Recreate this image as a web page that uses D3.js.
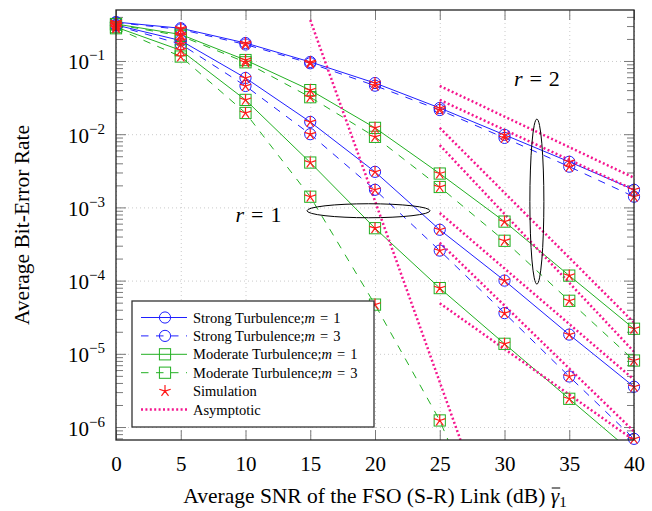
<!DOCTYPE html>
<html>
<head>
<meta charset="utf-8">
<script src="https://cdnjs.cloudflare.com/ajax/libs/d3/7.8.5/d3.min.js"></script>
<style>
body { margin: 0; background: #fff; }
svg text, svg tspan { font-family: "Liberation Serif", "Times New Roman", serif; fill: #000; }
</style>
</head>
<body>
<svg id="chart" width="652" height="511"></svg>
<script>
'use strict';

// average SNR of the FSO link (dB)
var snr = [0, 5, 10, 15, 20, 25, 30, 35, 40];

// r = 2
var strongR2M1 = [0.34, 0.28, 0.176, 0.097, 0.050, 0.0228, 0.0098, 0.0042, 0.00174];
var strongR2M3 = [0.335, 0.27, 0.168, 0.093, 0.046, 0.0214, 0.0089, 0.0036, 0.0014];
var moderateR2M1 = [0.32, 0.23, 0.103, 0.040, 0.0122, 0.0029, 0.00064, 0.000117, 0.000022];
var moderateR2M3 = [0.315, 0.22, 0.096, 0.032, 0.0092, 0.0019, 0.00035, 0.000053, 0.0000081];

// r = 1
var strongR1M1 = [0.31, 0.19, 0.0586, 0.0147, 0.00306, 0.000495, 0.0001, 0.0000183, 0.00000355];
var strongR1M3 = [0.305, 0.17, 0.0456, 0.010, 0.00174, 0.000257, 0.000036, 0.0000049, 0.00000069];
var moderateR1M1 = [0.29, 0.14, 0.0294, 0.0041, 0.00052, 0.000079, 0.0000137, 0.00000243, 0.00000043];
var moderateR1M3 = [0.28, 0.115, 0.0195, 0.0014, 0.000047, 0.00000123, 0.00000001];

// asymptotic lines, [snr, ber] end points
var asymStrongR2M1 = [[25, 0.0456], [40, 0.00254]];
var asymStrongR2M3 = [[25, 0.0294], [40, 0.00174]];
var asymModerateR2M1 = [[25, 0.0122], [40, 0.0000267]];
var asymModerateR2M3 = [[25, 0.0071], [40, 0.0000107]];
var asymStrongR1M1 = [[25, 0.00084], [40, 0.00000445]];
var asymStrongR1M3 = [[25, 0.00033], [40, 0.00000087]];
var asymModerateR1M1 = [[25, 0.000049], [40, 0.00000066]];
var asymModerateR1M3 = [[15, 0.363], [26.6, 0.000000665]];

var xTicks = [0, 5, 10, 15, 20, 25, 30, 35, 40];
var yTickExponents = [-6, -5, -4, -3, -2, -1];

var serif = '"Liberation Serif", "Times New Roman", serif';
var blue = '#1f1fff';
var green = '#22b022';
var simRed = '#ff1a1a';
var asymPink = '#f5168f';

var margin = {top: 10, right: 18, bottom: 71, left: 116};
var width = 652 - margin.left - margin.right;
var height = 511 - margin.top - margin.bottom;

var x = d3.scaleLinear().domain([0, 40]).range([0, width]);
var y = d3.scaleLog().domain([6.65e-7, 0.497]).range([height, 0]);

var svg = d3.select('#chart');
svg.append('defs').append('clipPath')
    .attr('id', 'plot-clip')
    .append('rect')
    .attr('width', width)
    .attr('height', height);

var g = svg.append('g')
    .attr('transform', 'translate(' + margin.left + ',' + margin.top + ')');

var majorY = yTickExponents.map(function (e) { return Math.pow(10, e); });
var minorY = [];
yTickExponents.concat([-7, 0]).forEach(function (e) {
    for (var k = 2; k <= 9; k++) {
        var v = k * Math.pow(10, e);
        if (v >= y.domain()[0] && v <= y.domain()[1]) minorY.push(v);
    }
});

// grid
var gridStyle = function (sel) {
    sel.select('.domain').remove();
    sel.selectAll('line')
        .attr('stroke', '#c4c4c4')
        .attr('stroke-width', 0.9)
        .attr('stroke-dasharray', '1,3');
};
g.append('g')
    .call(d3.axisLeft(y).tickValues(majorY).tickSize(-width).tickFormat(''))
    .call(gridStyle);
g.append('g')
    .attr('transform', 'translate(0,' + height + ')')
    .call(d3.axisBottom(x).tickValues(xTicks).tickSize(-height).tickFormat(''))
    .call(gridStyle);

// ticks
var tickStyle = function (sel) {
    sel.select('.domain').remove();
    sel.selectAll('line').attr('stroke', '#7a7a7a').attr('stroke-width', 1);
};
var xBottom = g.append('g')
    .attr('transform', 'translate(0,' + height + ')')
    .call(d3.axisBottom(x).tickValues(xTicks).tickSize(-10).tickPadding(16).tickFormat(d3.format('d')))
    .call(tickStyle);
xBottom.selectAll('text').attr('font-size', 21).attr('font-family', serif);

g.append('g')
    .call(d3.axisTop(x).tickValues(xTicks).tickSize(-10).tickFormat(''))
    .call(tickStyle);

var yLeft = g.append('g')
    .call(d3.axisLeft(y).tickValues(majorY).tickSize(-10).tickPadding(11).tickFormat(''))
    .call(tickStyle);
g.append('g')
    .call(d3.axisLeft(y).tickValues(minorY).tickSize(-7).tickFormat(''))
    .call(tickStyle);
g.append('g')
    .attr('transform', 'translate(' + width + ',0)')
    .call(d3.axisRight(y).tickValues(majorY).tickSize(-10).tickFormat(''))
    .call(tickStyle);
g.append('g')
    .attr('transform', 'translate(' + width + ',0)')
    .call(d3.axisRight(y).tickValues(minorY).tickSize(-7).tickFormat(''))
    .call(tickStyle);

yLeft.selectAll('.tick text').each(function (d) {
    var t = d3.select(this)
        .attr('font-size', 21)
        .attr('font-family', serif)
        .attr('dy', null)
        .attr('y', 8);
    t.append('tspan').text('10');
    t.append('tspan')
        .attr('dy', -9)
        .attr('font-size', 15)
        .text('\u2212' + Math.abs(Math.round(Math.log10(d))));
});

// curves
var series = [
    {values: strongR2M1, color: blue, dash: null, mark: 'circle'},
    {values: strongR2M3, color: blue, dash: '7.5,7.5', mark: 'circle'},
    {values: moderateR2M1, color: green, dash: null, mark: 'square'},
    {values: moderateR2M3, color: green, dash: '7.5,7.5', mark: 'square'},
    {values: strongR1M1, color: blue, dash: null, mark: 'circle'},
    {values: strongR1M3, color: blue, dash: '7.5,7.5', mark: 'circle'},
    {values: moderateR1M1, color: green, dash: null, mark: 'square'},
    {values: moderateR1M3, color: green, dash: '7.5,7.5', mark: 'square'}
];

var asymptotes = [
    asymStrongR2M1, asymStrongR2M3, asymModerateR2M1, asymModerateR2M3,
    asymStrongR1M1, asymStrongR1M3, asymModerateR1M1, asymModerateR1M3
];

var inRange = function (v) {
    return v >= y.domain()[0] && v <= y.domain()[1];
};

var drawMark = function (sel, type, color) {
    if (type === 'circle') {
        sel.append('circle')
            .attr('r', 5.6)
            .attr('fill', 'none')
            .attr('stroke', color)
            .attr('stroke-width', 1);
    } else if (type === 'square') {
        sel.append('rect')
            .attr('x', -5.6).attr('y', -5.6)
            .attr('width', 11.2).attr('height', 11.2)
            .attr('fill', 'none')
            .attr('stroke', color)
            .attr('stroke-width', 1);
    } else if (type === 'star') {
        var p = '';
        for (var k = 0; k < 5; k++) {
            var a = (-90 + 72 * k) * Math.PI / 180;
            p += 'M0,0L' + (6 * Math.cos(a)).toFixed(2) + ',' + (6 * Math.sin(a)).toFixed(2);
        }
        sel.append('path')
            .attr('d', p)
            .attr('fill', 'none')
            .attr('stroke', color)
            .attr('stroke-width', 1.2);
    }
};

var line = d3.line()
    .x(function (d, i) { return x(snr[i]); })
    .y(function (d) { return y(d); });

var plot = g.append('g');
var clipped = plot.append('g').attr('clip-path', 'url(#plot-clip)');

series.forEach(function (s) {
    clipped.append('path')
        .datum(s.values)
        .attr('d', line)
        .attr('fill', 'none')
        .attr('stroke', s.color)
        .attr('stroke-width', 1)
        .attr('stroke-dasharray', s.dash);
});

var points = function (s) {
    return s.values
        .map(function (v, i) { return [snr[i], v]; })
        .filter(function (d) { return inRange(d[1]); });
};

series.forEach(function (s) {
    plot.selectAll(null)
        .data(points(s))
        .enter()
        .append('g')
        .attr('transform', function (d) { return 'translate(' + x(d[0]) + ',' + y(d[1]) + ')'; })
        .each(function () { drawMark(d3.select(this), s.mark, s.color); });
});

// simulation points
series.forEach(function (s) {
    plot.selectAll(null)
        .data(points(s))
        .enter()
        .append('g')
        .attr('transform', function (d) { return 'translate(' + x(d[0]) + ',' + y(d[1]) + ')'; })
        .each(function () { drawMark(d3.select(this), 'star', simRed); });
});

var asymLine = d3.line()
    .x(function (d) { return x(d[0]); })
    .y(function (d) { return y(d[1]); });

asymptotes.forEach(function (a) {
    clipped.append('path')
        .datum(a)
        .attr('d', asymLine)
        .attr('fill', 'none')
        .attr('stroke', asymPink)
        .attr('stroke-width', 2.5)
        .attr('stroke-dasharray', '2,2.4');
});

// math-like text: italic symbol, spaced "=" and a number
var mathText = function (t, sym, n, gap) {
    t.append('tspan').attr('font-style', 'italic').text(sym);
    t.append('tspan').attr('dx', gap).text('=');
    t.append('tspan').attr('dx', gap).text(n);
};

// annotations
var ann = g.append('g');
ann.append('ellipse')
    .attr('cx', x(19.5)).attr('cy', y(9.0e-4))
    .attr('rx', 61.5).attr('ry', 7)
    .attr('fill', 'none').attr('stroke', '#000').attr('stroke-width', 1);
ann.append('ellipse')
    .attr('cx', x(32.5)).attr('cy', y(1.2e-3))
    .attr('rx', 7).attr('ry', 82.5)
    .attr('fill', 'none').attr('stroke', '#000').attr('stroke-width', 1);

var rLabel = function (xv, yv, n) {
    var t = ann.append('text')
        .attr('x', x(xv)).attr('y', y(yv))
        .attr('text-anchor', 'middle')
        .attr('font-family', serif)
        .attr('font-size', 22);
    mathText(t, 'r', n, 7);
};
rLabel(11, 6.4e-4, 1);
rLabel(32.5, 0.046, 2);

// frame
g.append('rect')
    .attr('width', width).attr('height', height)
    .attr('fill', 'none')
    .attr('stroke', '#222')
    .attr('stroke-width', 1.3);

// legend
var legendItems = [
    {text: 'Strong Turbulence;', m: 1, color: blue, dash: null, mark: 'circle'},
    {text: 'Strong Turbulence;', m: 3, color: blue, dash: '7.5,7.5', mark: 'circle'},
    {text: 'Moderate Turbulence;', m: 1, color: green, dash: null, mark: 'square'},
    {text: 'Moderate Turbulence;', m: 3, color: green, dash: '7.5,7.5', mark: 'square'},
    {text: 'Simulation', color: simRed, mark: 'star', noLine: true},
    {text: 'Asymptotic', color: asymPink, asym: true}
];

var legend = svg.append('g').attr('transform', 'translate(132,301)');
legend.append('rect')
    .attr('width', 242).attr('height', 126)
    .attr('fill', '#fff')
    .attr('stroke', '#333')
    .attr('stroke-width', 1.3);

legendItems.forEach(function (d, i) {
    var row = legend.append('g').attr('transform', 'translate(0,' + (16.5 + i * 18.4) + ')');
    if (d.asym) {
        row.append('line')
            .attr('x1', 9).attr('x2', 55)
            .attr('stroke', d.color).attr('stroke-width', 2.5)
            .attr('stroke-dasharray', '2,2.4');
    } else if (!d.noLine) {
        row.append('line')
            .attr('x1', 9).attr('x2', 55)
            .attr('stroke', d.color).attr('stroke-width', 1)
            .attr('stroke-dasharray', d.dash);
    }
    if (d.mark) {
        drawMark(row.append('g').attr('transform', 'translate(33,0)'), d.mark, d.color);
    }
    var t = row.append('text')
        .attr('x', 61).attr('y', 5)
        .attr('font-family', serif)
        .attr('font-size', 14.5);
    t.append('tspan').text(d.text);
    if (d.m) {
        mathText(t, 'm', d.m, 5);
    }
});

// axis labels
var xl = svg.append('text')
    .attr('x', margin.left + width / 2)
    .attr('y', 503)
    .attr('text-anchor', 'middle')
    .attr('font-family', serif)
    .attr('font-size', 21.5);
xl.append('tspan').text('Average SNR of the FSO (S-R) Link (dB) ');
xl.append('tspan').attr('font-style', 'italic').text('\u03b3');
xl.append('tspan').attr('font-size', 15).attr('dy', 4).text('1');

var full = xl.node().textContent;
var gi = full.indexOf('\u03b3');
var p0 = xl.node().getStartPositionOfChar(gi);
var p1 = xl.node().getEndPositionOfChar(gi);
svg.append('line')
    .attr('x1', p0.x + 1).attr('x2', p1.x + 1)
    .attr('y1', 488).attr('y2', 488)
    .attr('stroke', '#000').attr('stroke-width', 1);

svg.append('text')
    .attr('transform', 'translate(29,' + (margin.top + height / 2) + ') rotate(-90)')
    .attr('text-anchor', 'middle')
    .attr('font-family', serif)
    .attr('font-size', 21.5)
    .text('Average Bit-Error Rate');
</script>
</body>
</html>
